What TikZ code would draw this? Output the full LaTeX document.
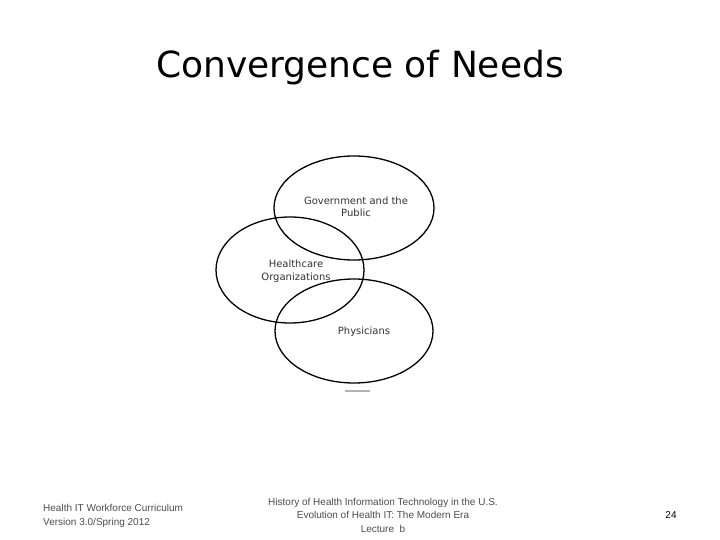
\documentclass[tikz,border=0pt]{standalone}
\usepackage{fontspec}
\setmainfont{Liberation Sans}
\newfontfamily\verd{DejaVu Sans}
\begin{document}
\begin{tikzpicture}[x=1pt,y=-1pt,
  ell/.style={draw=black,line width=1.3pt},
  lbl/.style={font=\verd\fontsize{10}{12.5}\selectfont,align=center,text=black!80},
  foot/.style={font=\fontsize{10}{13.5}\selectfont,text=black!70,inner sep=0pt}]
\useasboundingbox (0,0) rectangle (720,540);
\node[font=\verd\fontsize{36}{40}\selectfont] (title) at (360,68) {Convergence of Needs};
\draw[ell] (354,208) ellipse [x radius=80, y radius=52];
\draw[ell] (290,270) ellipse [x radius=74, y radius=53];
\draw[ell] (354,331) ellipse [x radius=79, y radius=52];
\node[lbl] (gov) at (356,207) {Government and the\\Public};
\node[lbl] (hc) at (296,271) {Healthcare\\Organizations};
\node[lbl] (ph) at (364,332) {Physicians};
\draw[gray!60,line width=1.2pt] (345,391) -- (370,391);
\node[foot,align=left,anchor=west] (f1) at (43,516) {Health IT Workforce Curriculum\\Version 3.0/Spring 2012};
\node[foot,align=center] (f2) at (383,515) {History of Health Information Technology in the U.S.\\Evolution of Health IT: The Modern Era\\Lecture\ \ b};
\node[foot,text=black] (f3) at (671,515) {24};
\end{tikzpicture}
\end{document}
